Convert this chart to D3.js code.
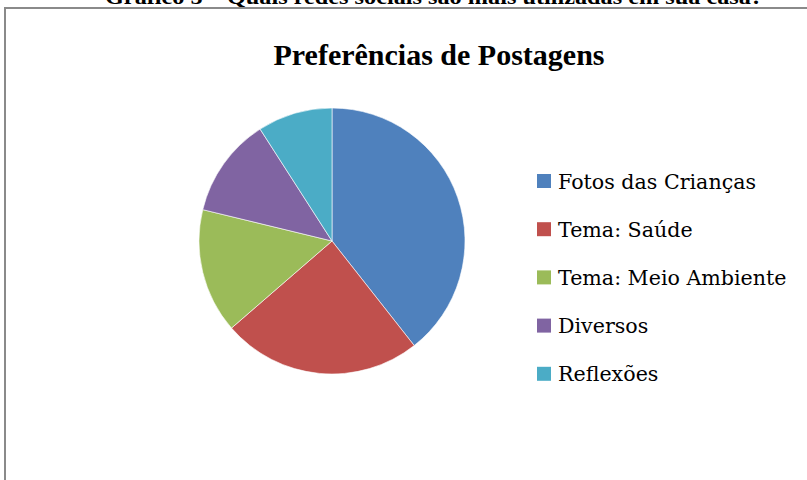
<!DOCTYPE html>
<html>
<head>
<meta charset="utf-8">
<script src="https://cdn.jsdelivr.net/npm/d3@7"></script>
<style>
  body { margin: 0; background: #fff; }
</style>
</head>
<body>
<div id="chart"></div>
<script>
var categories = ["Fotos das Crianças", "Tema: Saúde", "Tema: Meio Ambiente", "Diversos", "Reflexões"];
var values = [13, 8, 5, 4, 3];
var colors = ["#4F81BD", "#C0504D", "#9BBB59", "#8064A2", "#4BACC6"];

var width = 807, height = 480;

var svg = d3.select("#chart")
  .append("svg")
    .attr("width", width)
    .attr("height", height);

// caption above the frame, mostly cut off (as in the original)
svg.append("text")
  .attr("x", 434)
  .attr("y", 4)
  .attr("text-anchor", "middle")
  .attr("font-family", "Liberation Serif, serif")
  .attr("font-weight", "bold")
  .attr("font-size", "20px")
  .attr("textLength", 658)
  .attr("lengthAdjust", "spacingAndGlyphs")
  .attr("fill", "#000")
  .text("Gráfico 5 – Quais redes sociais são mais utilizadas em sua casa?");

// chart frame
svg.append("rect")
  .attr("x", 5)
  .attr("y", 8)
  .attr("width", 900)
  .attr("height", 600)
  .attr("fill", "#fff")
  .attr("stroke", "#8a8a8a")
  .attr("stroke-width", 2);

svg.append("text")
  .attr("x", 439)
  .attr("y", 65)
  .attr("text-anchor", "middle")
  .attr("font-family", "Liberation Serif, serif")
  .attr("font-weight", "bold")
  .attr("font-size", "30px")
  .attr("fill", "#000")
  .text("Preferências de Postagens");

var color = d3.scaleOrdinal()
  .domain(categories)
  .range(colors);

var radius = 133;
var pie = d3.pie().sort(null).value(function(d) { return d.value; });
var arc = d3.arc().innerRadius(0).outerRadius(radius);

var data = categories.map(function(c, i) { return {name: c, value: values[i]}; });

var g = svg.append("g")
  .attr("transform", "translate(332,241)");

g.selectAll("path")
  .data(pie(data))
  .enter().append("path")
    .attr("d", arc)
    .attr("fill", function(d) { return color(d.data.name); })
    .attr("stroke", "#fff")
    .attr("stroke-width", 0.6);

var legend = svg.append("g")
  .attr("transform", "translate(537,181)");

legend.selectAll("g")
  .data(categories)
  .enter()
  .append("g")
    .attr("transform", function(d, i) { return "translate(0," + (i * 48.2) + ")"; })
  .call(function(g) {
    g.append("rect")
      .attr("x", 0)
      .attr("y", -7)
      .attr("width", 14)
      .attr("height", 14)
      .attr("fill", function(d) { return color(d); });

    g.append("text")
      .attr("x", 21)
      .attr("y", 7.5)
      .attr("font-size", "20.6px")
      .attr("font-family", "DejaVu Serif, serif")
      .attr("fill", "#000")
      .text(function(d) { return d; });
  });
</script>
</body>
</html>
